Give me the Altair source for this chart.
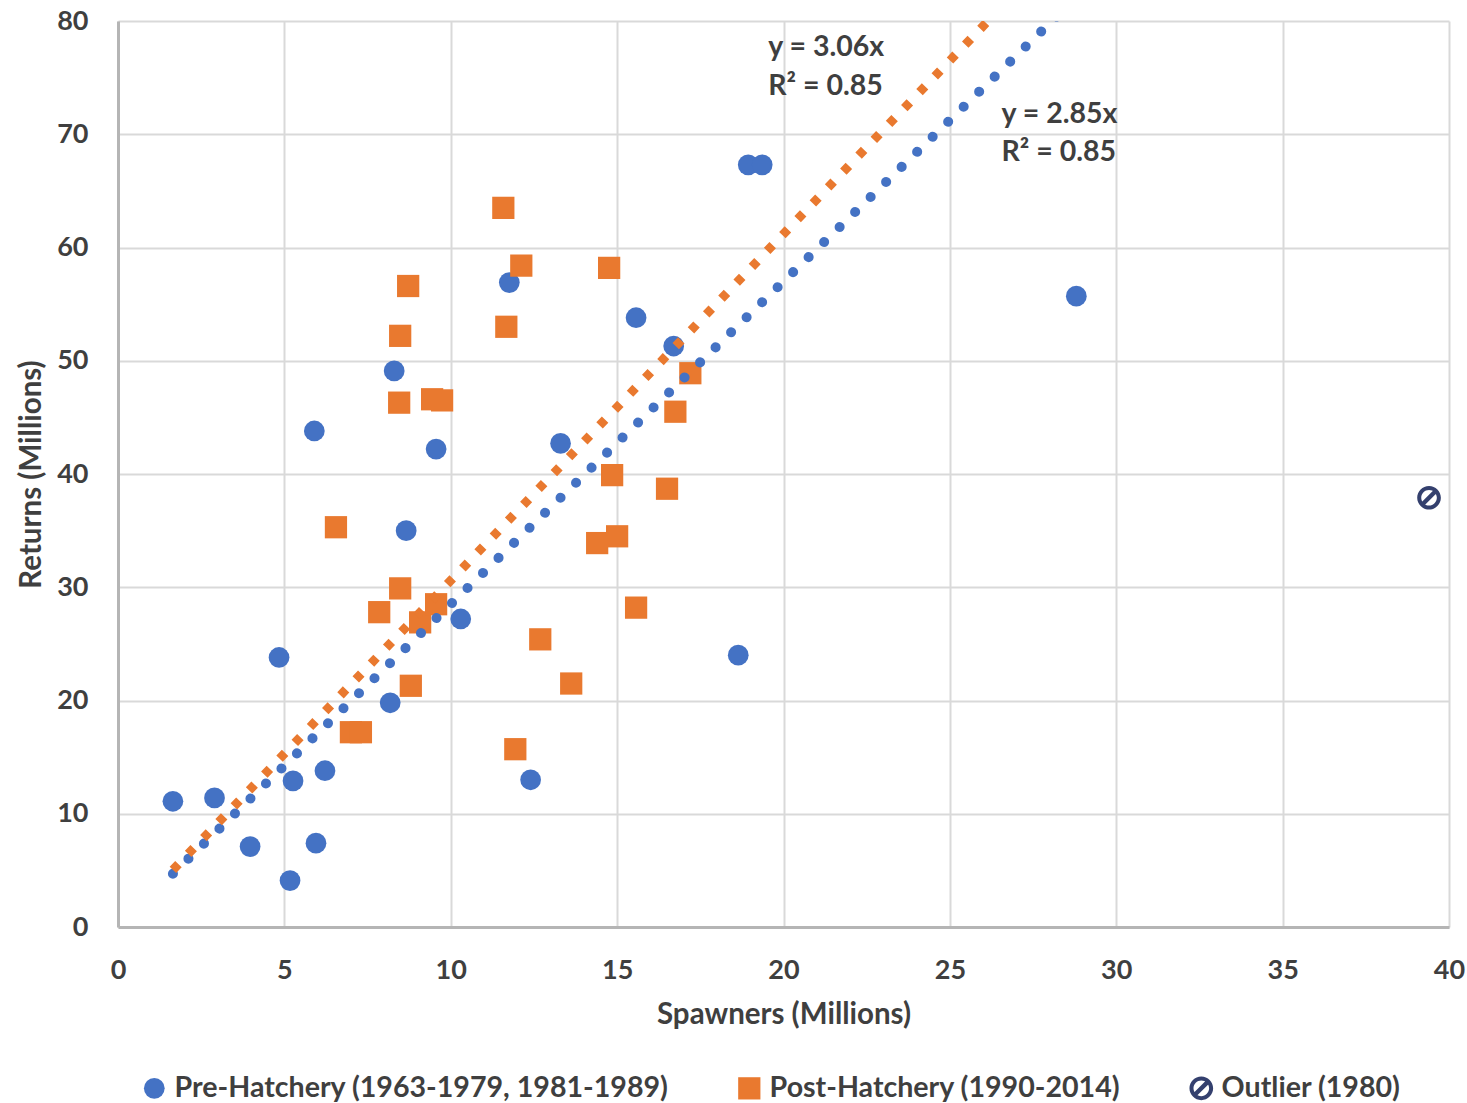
import altair as alt
import pandas as pd

# ---------------- data ----------------
series_names = ["Pre-Hatchery (1963-1979, 1981-1989)", "Post-Hatchery (1990-2014)", "Outlier (1980)"]

pre_x = [1.65, 2.9, 3.97, 4.84, 5.26, 5.17, 5.9, 5.95, 6.22, 8.3, 8.66, 9.56, 10.3,
         8.18, 11.76, 12.4, 13.3, 15.57, 16.7, 18.64, 18.94, 19.36, 28.8]
pre_y = [11.1, 11.4, 7.1, 23.8, 12.9, 4.1, 43.8, 7.4, 13.8, 49.1, 35.0, 42.2, 27.2,
         19.8, 56.9, 13.0, 42.7, 53.8, 51.3, 24.0, 67.3, 67.3, 55.7]

post_x = [6.55, 7.0, 7.3, 7.85, 8.48, 8.48, 8.45, 8.72, 8.8, 9.08, 9.56, 9.44, 9.74,
          11.58, 11.67, 11.94, 12.12, 12.69, 13.62, 14.4, 14.85, 15.0, 14.76, 15.57,
          16.5, 16.75, 17.2]
post_y = [35.3, 17.2, 17.2, 27.8, 29.9, 52.2, 46.3, 56.6, 21.3, 26.9, 28.5, 46.6, 46.5,
          63.5, 53.0, 15.7, 58.4, 25.4, 21.5, 33.9, 39.9, 34.5, 58.2, 28.2,
          38.7, 45.5, 48.9]

outlier_x = [39.4]
outlier_y = [37.9]

# trendlines (forced through origin)
trend_slopes = [2.85, 3.06]
trend_r2 = [0.85, 0.85]
trend_x_range = [1.65, 30.0]
# annotation anchor (data units) for each trendline label
label_x = [26.55, 19.54]
label_y = [71.8, 77.7]

x_ticks = [0, 5, 10, 15, 20, 25, 30, 35, 40]
y_ticks = [0, 10, 20, 30, 40, 50, 60, 70, 80]

# ---------------- styling ----------------
BLUE = "#4472C4"
ORANGE = "#E9792F"
NAVY = "#34406E"
TEXT = "#3F3F3F"
FONT = "Lato"
WEIGHT = "bold"

outlier_shape = (
    "M 1 0 A 1 1 0 1 1 -1 0 A 1 1 0 1 1 1 0 Z "
    "M 0.66 0 A 0.66 0.66 0 1 0 -0.66 0 A 0.66 0.66 0 1 0 0.66 0 Z "
    "M -0.72 0.46 L 0.46 -0.72 L 0.72 -0.46 L -0.46 0.72 Z"
)

rows = []
for x, y in zip(pre_x, pre_y):
    rows.append({"x": x, "y": y, "series": series_names[0]})
for x, y in zip(post_x, post_y):
    rows.append({"x": x, "y": y, "series": series_names[1]})
for x, y in zip(outlier_x, outlier_y):
    rows.append({"x": x, "y": y, "series": series_names[2]})
pts = pd.DataFrame(rows)

xs = alt.Scale(domain=[0, 40], nice=False)
ys = alt.Scale(domain=[0, 80], nice=False)

x_enc = alt.X("x:Q", scale=xs, title="Spawners (Millions)",
              axis=alt.Axis(values=x_ticks, format="d", labelFlush=False))
y_enc = alt.Y("y:Q", scale=ys, title="Returns (Millions)",
              axis=alt.Axis(values=y_ticks, format="d", labelFlush=False))

points = alt.Chart(pts).mark_point(filled=True, opacity=1, strokeWidth=0).encode(
    x=x_enc,
    y=y_enc,
    color=alt.Color("series:N", scale=alt.Scale(domain=series_names, range=[BLUE, ORANGE, NAVY]),
                    legend=alt.Legend(title=None, orient="none", direction="horizontal",
                                      legendX=22, legendY=1053, labelLimit=0)),
    shape=alt.Shape("series:N", scale=alt.Scale(domain=series_names,
                                                range=["circle", "square", outlier_shape])),
    size=alt.Size("series:N", scale=alt.Scale(domain=series_names, range=[430, 560, 600]),
                  legend=None),
)

def trend_df(i):
    return pd.DataFrame({"x": trend_x_range, "slope": [trend_slopes[i]] * 2})

blue_line = alt.Chart(trend_df(0)).transform_calculate(y="datum.slope * datum.x").mark_line(
    clip=True, color=BLUE, strokeWidth=10, strokeDash=[0.1, 21.5], strokeCap="round"
).encode(x=alt.X("x:Q", scale=xs), y=alt.Y("y:Q", scale=ys))

orange_line = alt.Chart(trend_df(1)).transform_calculate(y="datum.slope * datum.x").mark_line(
    clip=True, color=ORANGE, strokeWidth=9, strokeDash=[8, 14], strokeCap="butt"
).encode(x=alt.X("x:Q", scale=xs), y=alt.Y("y:Q", scale=ys))

ann_rows = []
for i in range(2):
    ann_rows.append({"x": label_x[i], "y": label_y[i], "t": f"y = {trend_slopes[i]:.2f}x"})
    ann_rows.append({"x": label_x[i], "y": label_y[i] - 3.4, "t": f"R² = {trend_r2[i]:.2f}"})
ann = alt.Chart(pd.DataFrame(ann_rows)).mark_text(
    align="left", baseline="middle", font=FONT, fontSize=28.5, fontWeight=WEIGHT, color=TEXT
).encode(x=alt.X("x:Q", scale=xs), y=alt.Y("y:Q", scale=ys), text="t:N")

chart = alt.layer(points, blue_line, orange_line, ann).properties(
    width=1331, height=906,
    autosize=alt.AutoSizeParams(type="none"),
    padding={"left": 118, "top": 21, "right": 18, "bottom": 176},
).configure_view(stroke=None).configure_axis(
    grid=True, gridColor="#D9D9D9", gridWidth=2,
    domainColor="#B5B5B5", domainWidth=3,
    ticks=False,
    labelFont=FONT, labelFontSize=27, labelFontWeight=WEIGHT, labelColor=TEXT,
    titleFont=FONT, titleFontSize=29.5, titleFontWeight=WEIGHT, titleColor=TEXT,
).configure_axisX(labelPadding=30, titlePadding=17).configure_axisY(
    labelPadding=30, titlePadding=10
).configure_legend(
    labelFont=FONT, labelFontSize=28.6, labelFontWeight=WEIGHT, labelColor=TEXT,
    symbolSize=300, columnPadding=66, labelOffset=6, padding=0, symbolStrokeWidth=0,
)

chart.save("out.html", embed_options={"renderer": "svg", "actions": False})
